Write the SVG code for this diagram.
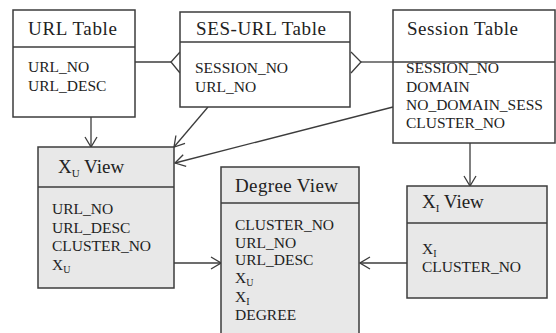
<svg xmlns="http://www.w3.org/2000/svg" width="556" height="333" viewBox="0 0 556 333">
  <style>
    .box { stroke: #3c3c3c; stroke-width: 1.5; }
    .table { fill: #ffffff; }
    .view { fill: #e8e8e8; }
    .div { stroke: #3c3c3c; stroke-width: 1.5; fill: none; }
    .title { font-family: "Liberation Serif", "Times New Roman", serif; font-size: 19px; fill: #222; }
    .item { font-family: "Liberation Serif", "Times New Roman", serif; font-size: 15.5px; fill: #222; }
    .sub { font-size: 10px; }
    .tsub { font-size: 11px; }
    .conn { stroke: #3c3c3c; stroke-width: 1.3; fill: none; }
  </style>
  <defs>
    <marker id="arrow" viewBox="0 0 12 14" refX="11" refY="7" markerWidth="12" markerHeight="14" markerUnits="userSpaceOnUse" orient="auto">
      <path d="M1,1 L11,7 L1,13" fill="none" stroke="#3c3c3c" stroke-width="1.3"/>
    </marker>
  </defs>

  <rect width="556" height="333" fill="#ffffff"/>

  <!-- connectors -->
  <g id="connectors">
    <!-- URL Table to SES-URL Table, crow's foot at SES-URL -->
    <line class="conn" x1="135" y1="62" x2="171" y2="62"/>
    <path class="conn" d="M180,52 L171,62 L180,73"/>
    <!-- SES-URL Table to Session Table, crow's foot at SES-URL -->
    <line class="conn" x1="361" y1="62" x2="393" y2="62"/>
    <path class="conn" d="M351,52 L361,62 L351,73"/>
    <!-- into X_U View -->
    <line class="conn" x1="91" y1="117" x2="91" y2="147" marker-end="url(#arrow)"/>
    <line class="conn" x1="208" y1="107" x2="174" y2="147" marker-end="url(#arrow)"/>
    <line class="conn" x1="393" y1="107" x2="175" y2="163" marker-end="url(#arrow)"/>
    <!-- into X_I View -->
    <line class="conn" x1="470" y1="143" x2="470" y2="186" marker-end="url(#arrow)"/>
    <!-- into Degree View -->
    <line class="conn" x1="174" y1="263" x2="221" y2="263" marker-end="url(#arrow)"/>
    <line class="conn" x1="407" y1="263" x2="360" y2="263" marker-end="url(#arrow)"/>
  </g>

  <g id="url-table">
    <rect class="box table" x="13" y="10" width="122" height="107"/>
    <line class="div" x1="13" y1="47" x2="135" y2="47"/>
    <text class="title" x="28" y="35" textLength="89" lengthAdjust="spacing">URL Table</text>
    <text class="item" x="28" y="72">URL_NO</text>
    <text class="item" x="28" y="91">URL_DESC</text>
  </g>

  <g id="ses-url-table">
    <rect class="box table" x="180" y="12" width="170" height="95"/>
    <line class="div" x1="180" y1="42" x2="350" y2="42"/>
    <text class="title" x="196" y="35" textLength="130" lengthAdjust="spacing">SES-URL Table</text>
    <text class="item" x="195" y="73">SESSION_NO</text>
    <text class="item" x="195" y="92">URL_NO</text>
  </g>

  <g id="session-table">
    <rect class="box table" x="393" y="10" width="162" height="133"/>
    <line class="div" x1="393" y1="62" x2="555" y2="62"/>
    <text class="title" x="407" y="35" textLength="111" lengthAdjust="spacing">Session Table</text>
    <text class="item" x="406" y="73">SESSION_NO</text>
    <text class="item" x="406" y="92">DOMAIN</text>
    <text class="item" x="406" y="110">NO_DOMAIN_SESS</text>
    <text class="item" x="406" y="128">CLUSTER_NO</text>
  </g>

  <g id="xu-view">
    <rect class="box view" x="38" y="147" width="136" height="141"/>
    <line class="div" x1="38" y1="187" x2="174" y2="187"/>
    <text class="title" x="58" y="173">X<tspan class="tsub" dy="4">U</tspan><tspan dy="-4"> View</tspan></text>
    <text class="item" x="52" y="214">URL_NO</text>
    <text class="item" x="52" y="233">URL_DESC</text>
    <text class="item" x="52" y="251">CLUSTER_NO</text>
    <text class="item" x="52" y="270">X<tspan class="sub" dy="3">U</tspan></text>
  </g>

  <g id="degree-view">
    <rect class="box view" x="221" y="167" width="138" height="180"/>
    <line class="div" x1="221" y1="203" x2="359" y2="203"/>
    <text class="title" x="235" y="192" textLength="103" lengthAdjust="spacing">Degree View</text>
    <text class="item" x="235" y="230">CLUSTER_NO</text>
    <text class="item" x="235" y="248">URL_NO</text>
    <text class="item" x="235" y="265">URL_DESC</text>
    <text class="item" x="235" y="283">X<tspan class="sub" dy="3">U</tspan></text>
    <text class="item" x="235" y="302">X<tspan class="sub" dy="3">I</tspan></text>
    <text class="item" x="235" y="320">DEGREE</text>
  </g>

  <g id="xi-view">
    <rect class="box view" x="407" y="186" width="140" height="112"/>
    <line class="div" x1="407" y1="223" x2="547" y2="223"/>
    <text class="title" x="422" y="208">X<tspan class="tsub" dy="4">I</tspan><tspan dy="-4"> View</tspan></text>
    <text class="item" x="422" y="254">X<tspan class="sub" dy="3">I</tspan></text>
    <text class="item" x="422" y="272">CLUSTER_NO</text>
  </g>
</svg>
